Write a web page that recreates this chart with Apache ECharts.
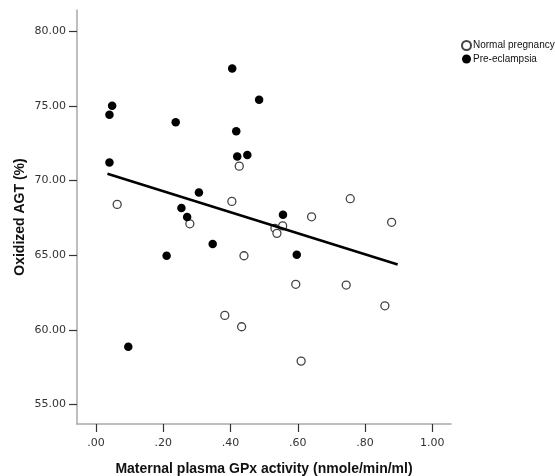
<!DOCTYPE html>
<html>
<head>
<meta charset="utf-8">
<script src="https://cdn.jsdelivr.net/npm/echarts@6/dist/echarts.min.js"></script>
<style>
  html, body { margin: 0; padding: 0; background: #fff; }
  #chart { width: 555px; height: 476px; }
</style>
</head>
<body>
<div id="chart"></div>
<script>
// GPx activity (x) and oxidized AGT % (y)
const normalX = [0.426, 0.063, 0.279, 0.404, 0.641, 0.756, 0.879, 0.555, 0.532, 0.538, 0.440, 0.594, 0.744, 0.859, 0.383, 0.433, 0.610]
const normalY = [70.96, 68.4, 67.1, 68.6, 67.57, 68.78, 67.2, 66.96, 66.8, 66.46, 64.96, 63.05, 63.0, 61.61, 60.97, 60.21, 57.91]

const preX = [0.048, 0.040, 0.237, 0.405, 0.485, 0.417, 0.040, 0.420, 0.450, 0.306, 0.254, 0.271, 0.347, 0.597, 0.556, 0.210, 0.096]
const preY = [75.0, 74.4, 73.9, 77.5, 75.4, 73.3, 71.2, 71.6, 71.7, 69.2, 68.15, 67.55, 65.74, 65.03, 67.7, 64.96, 58.87]

// fit line end points
const fitX = [0.034, 0.897]
const fitY = [70.45, 64.38]

const xTicks = [0, 0.2, 0.4, 0.6, 0.8, 1.0]
const yTicks = [55, 60, 65, 70, 75, 80]

const pairs = (xs, ys) => xs.map((x, i) => [x, ys[i]])

const chart = echarts.init(document.getElementById('chart'))

const axisFont = {
  fontFamily: 'DejaVu Sans',
  fontSize: 11,
  color: '#333'
}

const nameFont = {
  fontFamily: 'Liberation Sans',
  fontWeight: 'bold',
  fontSize: 14,
  color: '#111'
}

const option = {
  animation: false,
  grid: { left: 77, top: 10, width: 374, height: 414, outerBoundsMode: 'none' },
  legend: {
    orient: 'vertical',
    left: 456,
    top: 35,
    itemWidth: 9,
    itemHeight: 9,
    itemGap: 3,
    textStyle: { fontFamily: 'Liberation Sans', fontSize: 10, color: '#111', padding: [0, 0, 0, -3] },
    data: [
      { name: 'Normal pregnancy', icon: 'circle' },
      { name: 'Pre-eclampsia', icon: 'circle' }
    ]
  },
  xAxis: {
    type: 'value',
    min: -0.0565,
    max: 1.0556,
    name: 'Maternal plasma GPx activity (nmole/min/ml)',
    nameLocation: 'middle',
    nameGap: 38,
    nameTextStyle: nameFont,
    axisLine: { onZero: false, lineStyle: { color: '#a8a8a8', width: 1.5 } },
    axisTick: { length: 8, lineStyle: { color: '#333', width: 1.2 }, customValues: xTicks },
    axisLabel: Object.assign({
      margin: 14,
      customValues: xTicks,
      formatter: v => v.toFixed(2).replace(/^0/, '')
    }, axisFont),
    splitLine: { show: false }
  },
  yAxis: {
    type: 'value',
    min: 53.7,
    max: 81.41,
    name: 'Oxidized AGT (%)',
    nameLocation: 'middle',
    nameGap: 50,
    nameMoveOverlap: false,
    nameTextStyle: nameFont,
    axisLine: { onZero: false, lineStyle: { color: '#a8a8a8', width: 1.5 } },
    axisTick: { length: 8, lineStyle: { color: '#333', width: 1.2 }, customValues: yTicks },
    axisLabel: Object.assign({
      margin: 11,
      customValues: yTicks,
      formatter: v => v.toFixed(2)
    }, axisFont),
    splitLine: { show: false }
  },
  series: [
    {
      name: 'Normal pregnancy',
      type: 'scatter',
      symbol: 'circle',
      symbolSize: 8,
      itemStyle: { color: '#fff', borderColor: '#444', borderWidth: 1.3, opacity: 1 },
      data: pairs(normalX, normalY)
    },
    {
      name: 'Pre-eclampsia',
      type: 'scatter',
      symbol: 'circle',
      symbolSize: 8.5,
      itemStyle: { color: '#000', opacity: 1 },
      data: pairs(preX, preY)
    },
    {
      name: 'fit',
      type: 'line',
      symbol: 'none',
      silent: true,
      lineStyle: { color: '#000', width: 2.5 },
      data: pairs(fitX, fitY)
    }
  ]
}

chart.setOption(option)
</script>
</body>
</html>
